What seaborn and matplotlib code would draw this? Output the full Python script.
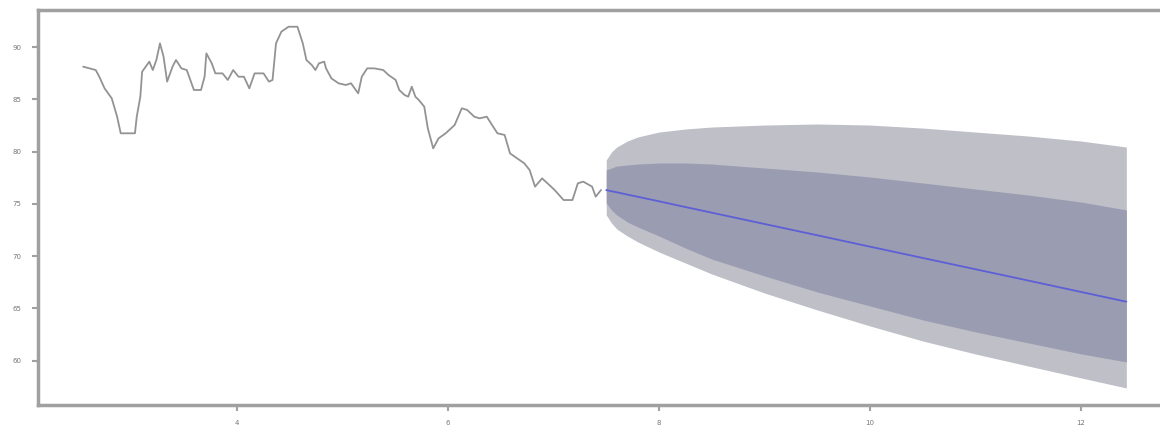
import numpy as np
import pandas as pd
import matplotlib
matplotlib.use("Agg")
import matplotlib.pyplot as plt
import seaborn as sns

hist_t = [2.542, 2.661, 2.695, 2.745, 2.813, 2.864, 2.898, 3.033, 3.050, 3.084,
          3.101, 3.169, 3.202, 3.236, 3.270, 3.304, 3.338, 3.389, 3.422, 3.473,
          3.524, 3.592, 3.659, 3.693, 3.710, 3.761, 3.795, 3.863, 3.913, 3.964,
          4.015, 4.066, 4.117, 4.167, 4.252, 4.303, 4.337, 4.370, 4.421, 4.489,
          4.573, 4.624, 4.658, 4.709, 4.743, 4.777, 4.827, 4.844, 4.895, 4.963,
          5.031, 5.081, 5.115, 5.149, 5.183, 5.234, 5.301, 5.386, 5.437, 5.504,
          5.538, 5.589, 5.623, 5.657, 5.691, 5.724, 5.775, 5.809, 5.860, 5.911,
          5.978, 6.063, 6.131, 6.182, 6.249, 6.300, 6.368, 6.418, 6.469, 6.537,
          6.588, 6.655, 6.723, 6.774, 6.825, 6.892, 6.943, 7.011, 7.096, 7.180,
          7.231, 7.282, 7.366, 7.400, 7.451]
hist_y = [88.12, 87.80, 87.16, 86.05, 85.09, 83.34, 81.75, 81.75, 83.34, 85.25,
          87.64, 88.60, 87.80, 88.76, 90.35, 89.08, 86.69, 88.12, 88.76, 87.96,
          87.80, 85.89, 85.89, 87.16, 89.39, 88.44, 87.48, 87.48, 86.85, 87.80,
          87.16, 87.16, 86.05, 87.48, 87.48, 86.69, 86.85, 90.35, 91.47, 91.94,
          91.94, 90.35, 88.76, 88.28, 87.80, 88.44, 88.60, 87.96, 87.00, 86.53,
          86.37, 86.53, 86.05, 85.57, 87.16, 87.96, 87.96, 87.80, 87.32, 86.85,
          85.89, 85.41, 85.25, 86.21, 85.25, 84.93, 84.30, 82.22, 80.31, 81.27,
          81.75, 82.54, 84.14, 83.98, 83.34, 83.18, 83.34, 82.54, 81.75, 81.59,
          79.83, 79.36, 78.88, 78.24, 76.65, 77.44, 76.97, 76.33, 75.37, 75.37,
          76.97, 77.13, 76.65, 75.69, 76.33]

# ---- forecast ----
fc_t = [7.5, 7.55, 7.6, 7.7, 7.8, 8.0, 8.25, 8.5, 9.0, 9.5, 10.0, 10.5, 11.0, 11.5, 12.0, 12.43]
fc_mean = [76.32, 76.21, 76.11, 75.89, 75.68, 75.25, 74.70, 74.16, 73.08, 72.00,
           70.91, 69.83, 68.75, 67.67, 66.58, 65.65]
fc_hi95 = [79.20, 79.96, 80.44, 81.01, 81.40, 81.87, 82.16, 82.35, 82.54, 82.64,
           82.54, 82.25, 81.87, 81.49, 81.01, 80.44]
fc_hi80 = [78.24, 78.43, 78.62, 78.72, 78.81, 78.91, 78.91, 78.81, 78.43, 78.05,
           77.57, 77.00, 76.42, 75.85, 75.18, 74.42]
fc_lo80 = [75.09, 74.42, 73.94, 73.27, 72.79, 71.93, 70.78, 69.73, 68.11, 66.58,
           65.24, 63.91, 62.76, 61.71, 60.66, 59.89]
fc_lo95 = [73.94, 73.17, 72.60, 71.93, 71.36, 70.40, 69.35, 68.30, 66.48, 64.86,
           63.33, 61.89, 60.65, 59.50, 58.36, 57.40]

x_ticks = [4, 6, 8, 10, 12]
y_ticks = [60, 65, 70, 75, 80, 85, 90]

sns.set_style("white")

fig = plt.figure(figsize=(11.6, 4.26), dpi=100)
ax = fig.add_axes([38 / 1160, 21 / 426, 1 - 38 / 1160, 395 / 426])

hist = pd.DataFrame({"t": hist_t, "y": hist_y})
fc = pd.DataFrame({"t": fc_t, "mean": fc_mean, "lo80": fc_lo80, "hi80": fc_hi80,
                   "lo95": fc_lo95, "hi95": fc_hi95})

ax.fill_between(fc["t"], fc["lo95"], fc["hi95"], color="#bebfc7", linewidth=0, zorder=1)
ax.fill_between(fc["t"], fc["lo80"], fc["hi80"], color="#9a9cb2", linewidth=0, zorder=2)
sns.lineplot(data=hist, x="t", y="y", ax=ax, color="#939393", linewidth=1.3,
             sort=False, estimator=None, zorder=3)
sns.lineplot(data=fc, x="t", y="mean", ax=ax, color="#5d5fd6", linewidth=1.3,
             sort=False, estimator=None, zorder=4)

ax.set_xlim(2.114, 12.749)
ax.set_ylim(55.77, 93.54)
ax.set_xticks(x_ticks)
ax.set_xticklabels([str(v) for v in x_ticks])
ax.set_yticks(y_ticks)
ax.set_yticklabels([str(v) for v in y_ticks])
ax.set_xlabel("")
ax.set_ylabel("")

for side in ["left", "bottom", "top"]:
    ax.spines[side].set_visible(True)
    ax.spines[side].set_color("#a0a0a0")
    ax.spines[side].set_linewidth(2.5)
ax.spines["right"].set_visible(False)

ax.tick_params(axis="both", which="major", direction="out", length=4, width=1.5,
               color="#a0a0a0", labelsize=5, labelcolor="#777777", pad=8)
ax.tick_params(axis="x", bottom=True, top=False, pad=7)
ax.tick_params(axis="y", left=True, right=False)

fig.savefig("out.png", dpi=100)
